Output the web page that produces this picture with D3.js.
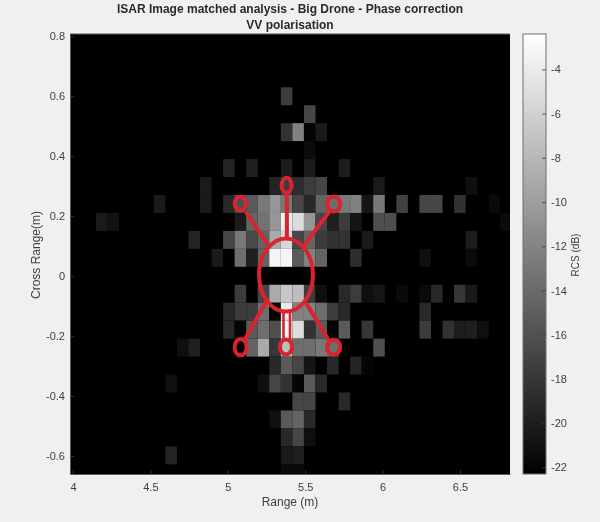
<!DOCTYPE html>
<html><head><meta charset="utf-8">
<script src="https://cdn.jsdelivr.net/npm/d3@7"></script>
<style>
html,body{margin:0;padding:0;background:#f0f0f0;}
svg{display:block;filter:blur(0.45px);font-family:"Liberation Sans",Arial,sans-serif;}
</style></head><body>
<div id="chart"></div>
<script>
const titleLines = ["ISAR Image matched analysis - Big Drone - Phase correction", "VV polarisation"];
const xLabel = "Range (m)";
const yLabel = "Cross Range(m)";
const cbLabel = "RCS (dB)";
const xTicks = [4, 4.5, 5, 5.5, 6, 6.5];
const yTicks = [0.8, 0.6, 0.4, 0.2, 0, -0.2, -0.4, -0.6];
const cbTicks = [-4, -6, -8, -10, -12, -14, -16, -18, -20, -22];
const xDomain = [3.981, 6.823];
const yDomain = [0.808, -0.66];
const dbDomain = [-22.3, -2.4];
const rangeStart = 4.0, rangeStep = 0.0746;
const crossStart = 0.81, crossStep = 0.0599;

// RCS in dB by image row (top to bottom): [column, dB]; unlisted cells are at the floor
const rcsRows = [
 [], [], [],
 [[18,-17.6]],
 [[20,-16.8]],
 [[18,-18.4],[19,-12.2],[20,-21.9],[21,-20.3]],
 [[20,-21.4]],
 [[13,-19.6],[15,-19.9],[18,-20.1],[20,-20.1],[23,-20.1]],
 [[11,-20.3],[17,-19.6],[18,-17.6],[19,-18.8],[20,-17.6],[21,-16.8],[26,-20.3],[34,-21.1]],
 [[7,-20.3],[11,-20.3],[13,-19.2],[14,-16.1],[15,-15.3],[16,-12.9],[17,-10.6],[18,-13],[19,-16.8],[20,-19.2],[21,-14.5],[22,-13.7],[23,-12.9],[24,-12.2],[25,-20.7],[26,-12.9],[28,-17.2],[30,-16.8],[31,-16.8],[33,-18.4],[36,-21.5]],
 [[2,-20.3],[3,-20.9],[14,-20.3],[15,-14.5],[16,-13.3],[17,-10.6],[18,-3.6],[19,-5.1],[20,-10.6],[21,-16.8],[22,-19.9],[23,-17.6],[24,-20.7],[26,-16.1],[27,-16.1],[37,-21.5]],
 [[10,-19.6],[13,-16.8],[14,-12.9],[15,-16.5],[16,-14.5],[17,-9],[18,-5.5],[19,-16.8],[20,-14.5],[21,-17.6],[22,-18.4],[23,-18.4],[25,-20.3],[34,-20]],
 [[12,-20.3],[14,-13.7],[15,-19.9],[16,-14.5],[17,-3.2],[18,-3.2],[19,-15.3],[20,-12.2],[21,-14.5],[24,-18.8],[30,-21.1],[34,-21.5]],
 [],
 [[14,-17.6],[16,-16.8],[17,-9],[18,-6.7],[19,-7.5],[20,-17.6],[21,-21.1],[23,-19.2],[24,-17.6],[25,-21.1],[26,-20.6],[28,-21.5],[30,-21.5],[31,-19.2],[33,-18],[34,-20.3]],
 [[13,-19.2],[14,-17.6],[15,-17.6],[16,-13.7],[17,-21.9],[18,-4],[19,-12.2],[20,-12.2],[21,-13.7],[22,-17.6],[23,-19.2],[30,-19.2]],
 [[13,-19.2],[14,-21.9],[15,-15.3],[16,-13.7],[17,-16.1],[18,-3.2],[19,-5.1],[20,-18.4],[21,-15.3],[22,-21.9],[23,-15.3],[25,-18],[30,-17.6],[32,-18.4],[33,-20],[34,-19.9],[35,-21.1]],
 [[9,-21.1],[10,-19.9],[15,-14.5],[16,-9],[17,-18],[18,-7.5],[19,-13.7],[20,-13.7],[21,-12.9],[22,-13.7],[26,-16.1]],
 [[17,-19.2],[18,-15.3],[19,-16.8],[20,-20.7],[22,-19.2],[24,-19.6],[25,-21.9]],
 [[8,-21.1],[16,-21.1],[17,-16.8],[18,-18.4],[19,-21.9],[20,-15.3],[21,-19.2]],
 [[19,-16.8],[20,-16.8],[23,-19.2]],
 [[17,-21.1],[18,-15.3],[19,-14.5],[20,-19.2]],
 [[18,-19.2],[19,-16.8],[20,-21.1]],
 [[8,-19.6],[18,-20.3],[19,-19.9]],
 [[18,-21.5],[19,-21.5]]
];

// Hand-drawn overlay in data coordinates
const ringCx = [5.376, 5.081, 5.380, 5.684, 5.083, 5.376, 5.684];
const ringCy = [0.004, 0.243, 0.303, 0.241, -0.237, -0.236, -0.237];
const ringRx = [0.174, 0.036, 0.032, 0.042, 0.039, 0.039, 0.042];
const ringRy = [0.122, 0.023, 0.025, 0.025, 0.027, 0.025, 0.025];
const armX1 = [5.118, 5.382, 5.654, 5.247, 5.505];
const armY1 = [0.214, 0.278, 0.214, -0.086, -0.089];
const armX2 = [5.260, 5.382, 5.492, 5.111, 5.647];
const armY2 = [0.104, 0.127, 0.101, -0.210, -0.210];
const stemX = [5.360, 5.402];
const stemY = [-0.120, -0.213];

const W = 600, H = 522;
const plot = {l: 70, r: 510, t: 34, b: 474};
const cb = {l: 523, r: 546};
const TXT = "#404040", RED = "#d9232e";

const svg = d3.select("#chart").append("svg").attr("width", W).attr("height", H);
svg.append("rect").attr("width", W).attr("height", H).attr("fill", "#f0f0f0");

const x = d3.scaleLinear().domain(xDomain).range([plot.l, plot.r]);
const y = d3.scaleLinear().domain(yDomain).range([plot.t, plot.b]);
const cbY = d3.scaleLinear().domain([dbDomain[1], dbDomain[0]]).range([plot.t, plot.b]);
const grey = d3.scaleLinear().domain(dbDomain).range(["#000000", "#ffffff"]).clamp(true);

svg.append("defs").append("clipPath").attr("id", "pc").append("rect")
  .attr("x", plot.l).attr("y", plot.t).attr("width", plot.r - plot.l).attr("height", plot.b - plot.t);
svg.append("rect").attr("x", plot.l).attr("y", plot.t).attr("width", plot.r - plot.l)
  .attr("height", plot.b - plot.t).attr("fill", "#000");

const cells = rcsRows.flatMap((row, r) => row.map(([c, db]) => ({r, c, db})));
svg.append("g").attr("clip-path", "url(#pc)").selectAll("rect").data(cells).join("rect")
  .attr("x", d => x(rangeStart + d.c * rangeStep))
  .attr("width", d => x(rangeStart + (d.c + 1) * rangeStep) - x(rangeStart + d.c * rangeStep))
  .attr("y", d => y(crossStart - d.r * crossStep))
  .attr("height", d => y(crossStart - (d.r + 1) * crossStep) - y(crossStart - d.r * crossStep))
  .attr("fill", d => grey(d.db));

function styleAxis(g) {
  g.selectAll("text").attr("fill", TXT).attr("font-size", 11);
  g.selectAll(".tick line").attr("stroke", "#404040").attr("stroke-width", 0.8);
  g.select(".domain").attr("stroke", "#5a5a5a").attr("stroke-width", 1);
}
const fmt = d => String(d);
const gx = svg.append("g").attr("transform", `translate(0,${plot.b})`)
  .call(d3.axisBottom(x).tickValues(xTicks).tickSizeInner(-4).tickSizeOuter(0).tickPadding(9).tickFormat(fmt));
styleAxis(gx);
const gy = svg.append("g").attr("transform", `translate(${plot.l},0)`)
  .call(d3.axisLeft(y).tickValues(yTicks).tickSizeInner(-4).tickSizeOuter(0).tickPadding(5).tickFormat(fmt));
styleAxis(gy);
svg.append("line").attr("x1", plot.l).attr("x2", plot.r).attr("y1", plot.t).attr("y2", plot.t)
  .attr("stroke", "#5a5a5a");

// Overlay
const ov = svg.append("g").attr("fill", "none").attr("stroke", RED).attr("clip-path", "url(#pc)");
ov.selectAll("ellipse").data(ringCx).join("ellipse")
  .attr("cx", d => x(d))
  .attr("cy", (d, i) => y(ringCy[i]))
  .attr("rx", (d, i) => x(d + ringRx[i]) - x(d))
  .attr("ry", (d, i) => y(ringCy[i] - ringRy[i]) - y(ringCy[i]))
  .attr("stroke-width", 4);
ov.selectAll("line.arm").data(armX1).join("line").attr("class", "arm")
  .attr("x1", d => x(d)).attr("y1", (d, i) => y(armY1[i]))
  .attr("x2", (d, i) => x(armX2[i])).attr("y2", (d, i) => y(armY2[i]))
  .attr("stroke-width", 4);
ov.selectAll("line.stem").data(stemX).join("line").attr("class", "stem")
  .attr("x1", d => x(d)).attr("x2", d => x(d))
  .attr("y1", y(stemY[0])).attr("y2", y(stemY[1]))
  .attr("stroke-width", 2.6);

// Colour bar
const grad = svg.select("defs").append("linearGradient").attr("id", "cbg")
  .attr("x1", 0).attr("x2", 0).attr("y1", 1).attr("y2", 0);
grad.append("stop").attr("offset", 0).attr("stop-color", grey(dbDomain[0]));
grad.append("stop").attr("offset", 1).attr("stop-color", grey(dbDomain[1]));
svg.append("rect").attr("x", cb.l).attr("y", plot.t).attr("width", cb.r - cb.l)
  .attr("height", plot.b - plot.t).attr("fill", "url(#cbg)")
  .attr("stroke", "#6e6e6e").attr("stroke-width", 1);
const gc = svg.append("g").attr("transform", `translate(${cb.r},0)`)
  .call(d3.axisRight(cbY).tickValues(cbTicks).tickSizeInner(-4).tickSizeOuter(0).tickPadding(5).tickFormat(fmt));
styleAxis(gc);
gc.select(".domain").remove();

// Text
svg.append("g").attr("fill", "#2a2a2a").attr("font-weight", "bold")
  .attr("font-size", 12).attr("text-anchor", "middle")
  .selectAll("text").data(titleLines).join("text")
  .attr("x", 290).attr("y", (d, i) => 13 + i * 16).text(d => d);

svg.append("text").attr("x", 290).attr("y", 506).attr("text-anchor", "middle")
  .attr("fill", TXT).attr("font-size", 12).text(xLabel);
svg.append("text").attr("transform", "translate(40,255) rotate(-90)").attr("text-anchor", "middle")
  .attr("fill", TXT).attr("font-size", 12).text(yLabel);
svg.append("text").attr("transform", "translate(579,255) rotate(-90)").attr("text-anchor", "middle")
  .attr("fill", TXT).attr("font-size", 10).text(cbLabel);
</script>
</body></html>
